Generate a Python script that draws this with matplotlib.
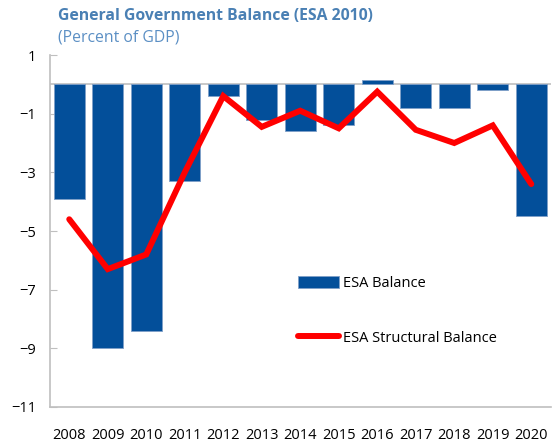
import numpy as np
import matplotlib.pyplot as plt

plt.rcParams['font.family'] = ['Open Sans', 'DejaVu Sans']

# general government balance, percent of GDP
years = ['2008', '2009', '2010', '2011', '2012', '2013', '2014',
         '2015', '2016', '2017', '2018', '2019', '2020']
esa_balance = [-3.9, -9.0, -8.4, -3.3, -0.4, -1.2, -1.6,
               -1.4, 0.15, -0.8, -0.8, -0.2, -4.5]
structural = [-4.6, -6.3, -5.8, -3.0, -0.4, -1.45, -0.9,
              -1.5, -0.25, -1.55, -2.0, -1.4, -3.4]

blue = '#034f9a'
red = '#ff0000'
grey = '#bfbfbf'

fig = plt.figure(figsize=(5.52, 4.43), dpi=100)
ax = fig.add_axes([50/552, 1 - 407/443, 500.5/552, 352/443])

x = np.arange(len(years))
bars = ax.bar(x, esa_balance, width=0.8, color=blue, edgecolor='#7f9fc8',
              linewidth=0.6, label='ESA Balance', zorder=2)
line, = ax.plot(x, structural, color=red, lw=4.3, solid_capstyle='round',
                solid_joinstyle='miter', label='ESA Structural Balance',
                zorder=3)
ax.axhline(0, color=grey, lw=1.2, zorder=1)

ax.set_xlim(-0.5, len(years) - 0.5)
ax.set_ylim(-11, 1)
ax.set_yticks(np.arange(-11, 2, 2))
ax.set_xticks(x)
ax.set_xticklabels(years)

for s in ['top', 'right']:
    ax.spines[s].set_visible(False)
for s in ['left', 'bottom']:
    ax.spines[s].set_color(grey)
    ax.spines[s].set_linewidth(1.2)

ax.tick_params(axis='y', direction='in', length=5, color=grey,
               labelsize=10.5, pad=10)
ax.tick_params(axis='x', length=0, labelsize=10.5, pad=15)

ax.legend(handles=[bars, line], loc='upper left',
          bbox_to_anchor=(298/552, 1 - 276/443),
          bbox_transform=fig.transFigure, frameon=False, fontsize=10.5,
          handlelength=2.8, handleheight=0.9, handletextpad=0.3,
          labelspacing=2.7, borderpad=0, borderaxespad=0)

fig.text(58/552, 1 - 16/443, 'General Government Balance (ESA 2010)',
         fontsize=11.3, fontweight='bold', color='#4a80b4', va='center')
fig.text(58/552, 1 - 38/443, '(Percent of GDP)', fontsize=11.3,
         color='#5b8fc4', va='center')

plt.savefig('out.png', dpi=100)
